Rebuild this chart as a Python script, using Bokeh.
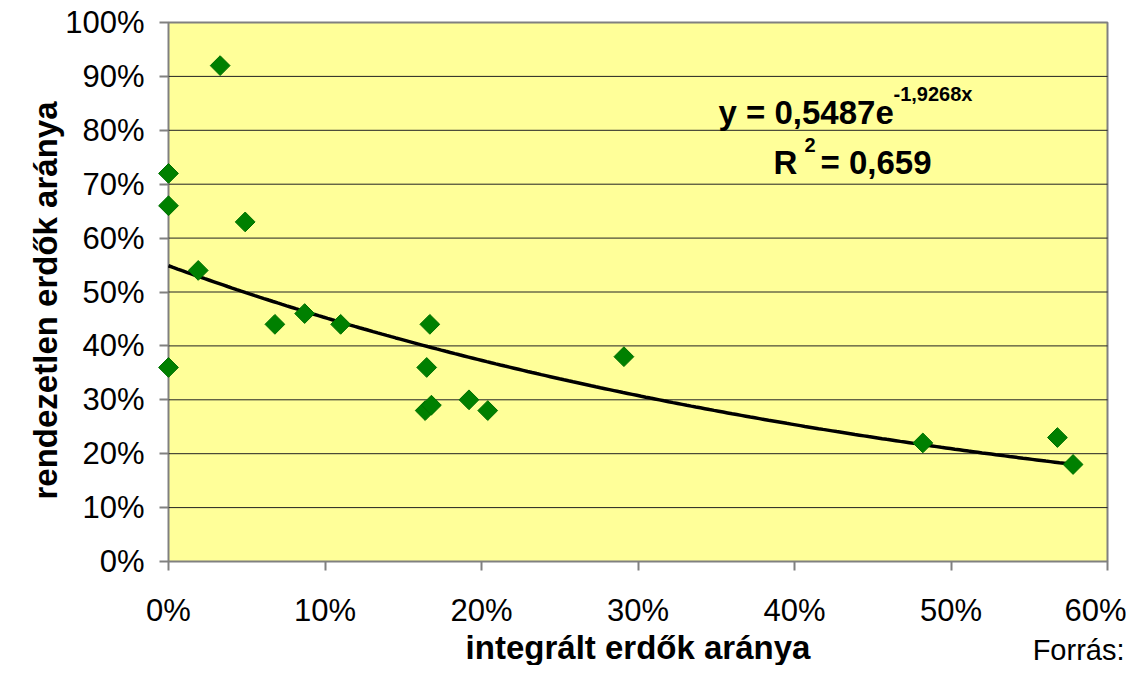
import numpy as np
from bokeh.plotting import figure
from bokeh.models import ColumnDataSource, NumeralTickFormatter, FixedTicker, Label, Range1d
from bokeh.embed import file_html
from bokeh.resources import INLINE

# data (fractions)
integralt = [0.000, 0.000, 0.000, 0.033, 0.019, 0.049, 0.068, 0.087, 0.110,
             0.167, 0.165, 0.164, 0.168, 0.192, 0.204, 0.291, 0.482, 0.568, 0.578]
rendezetlen = [0.72, 0.66, 0.36, 0.92, 0.54, 0.63, 0.44, 0.46, 0.44,
               0.44, 0.36, 0.28, 0.29, 0.30, 0.28, 0.38, 0.22, 0.23, 0.18]

# exponential trendline coefficients shown on the chart
trend_a = 0.5487
trend_b = -1.9268

x_ticks = [0.0, 0.1, 0.2, 0.3, 0.4, 0.5, 0.6]
y_ticks = [0.0, 0.1, 0.2, 0.3, 0.4, 0.5, 0.6, 0.7, 0.8, 0.9, 1.0]

FONT = "Liberation Sans"

# layout (pixels): plot area 168..1107 horizontally, 22..561 vertically
W, H = 1126, 665
PL, PR, PT, PB = 168, 1107, 22, 561
sx = (PR - PL) / (x_ticks[-1] - x_ticks[0])
sy = (PB - PT) / (y_ticks[-1] - y_ticks[0])


def dx(px):
    return x_ticks[0] + (px - PL) / sx


def dy(py):
    return y_ticks[0] + (PB - py) / sy


# the frame covers the whole canvas; the axes sit at the plot area's edges
p = figure(width=W, height=H, output_backend="svg", toolbar_location=None, title=None,
           x_range=Range1d(dx(0), dx(W)), y_range=Range1d(dy(H), dy(0)),
           min_border=0, min_border_left=0, min_border_right=0, min_border_top=0, min_border_bottom=0)

p.background_fill_color = "white"
p.border_fill_color = "white"
p.outline_line_color = None
p.xgrid.grid_line_color = None
p.ygrid.grid_line_color = None

for ax in (p.xaxis[0], p.yaxis[0]):
    ax.axis_line_color = None
    ax.major_tick_line_color = "#808080"
    ax.major_tick_line_width = 2
    ax.major_tick_out = 9
    ax.major_tick_in = 0
    ax.minor_tick_line_color = None
    ax.major_label_text_font = FONT
    ax.major_label_text_font_size = "31px"
    ax.major_label_text_color = "black"
    ax.formatter = NumeralTickFormatter(format="0%")

p.xaxis[0].ticker = FixedTicker(ticks=x_ticks)
p.yaxis[0].ticker = FixedTicker(ticks=y_ticks)
p.xaxis[0].fixed_location = y_ticks[0]
p.yaxis[0].fixed_location = x_ticks[0]
p.xaxis[0].major_label_standoff = 22
p.yaxis[0].major_label_standoff = 15

# plot area (yellow) with grey border
p.quad(left=[x_ticks[0]], right=[x_ticks[-1]], bottom=[y_ticks[0]], top=[y_ticks[-1]],
       fill_color="#FFFF99", line_color="#808080", line_width=2)

# horizontal gridlines
grid_y = y_ticks[1:-1]
p.segment(x0=[x_ticks[0]] * len(grid_y), x1=[x_ticks[-1]] * len(grid_y), y0=grid_y, y1=grid_y,
          line_color="#222222", line_width=1)

# trendline from the displayed equation
tx = np.linspace(0, max(integralt), 200)
ty = trend_a * np.exp(trend_b * tx)
p.line(tx, ty, line_color="black", line_width=3.5)

src = ColumnDataSource(dict(x=integralt, y=rendezetlen))
p.scatter("x", "y", source=src, marker="square", size=14, angle=np.pi / 4,
          fill_color="#008000", line_color="#007000", line_width=1)

bold = dict(text_font=FONT, text_font_style="bold", text_baseline="middle", text_color="black")

# equation labels
p.add_layout(Label(x=dx(718), y=dy(112), text="y = 0,5487e", text_font_size="33px", **bold))
p.add_layout(Label(x=dx(893), y=dy(93), text="-1,9268x", text_font_size="20px", **bold))
p.add_layout(Label(x=dx(773), y=dy(162), text="R", text_font_size="33px", **bold))
p.add_layout(Label(x=dx(804), y=dy(144), text="2", text_font_size="20px", **bold))
p.add_layout(Label(x=dx(820), y=dy(162), text="= 0,659", text_font_size="33px", **bold))

# axis titles
p.add_layout(Label(x=dx((PL + PR) / 2), y=dy(647), text="integrált erdők aránya",
                   text_align="center", text_font_size="33px", **bold))
p.add_layout(Label(x=dx(45), y=dy(300), text="rendezetlen erdők aránya", angle=np.pi / 2,
                   text_align="center", text_font_size="33px", **bold))

# source note
p.add_layout(Label(x=dx(1124), y=dy(649), text="Forrás:", text_font=FONT, text_align="right",
                   text_font_size="29px", text_baseline="middle", text_color="black"))

open("out.html", "w").write(file_html(p, INLINE))
